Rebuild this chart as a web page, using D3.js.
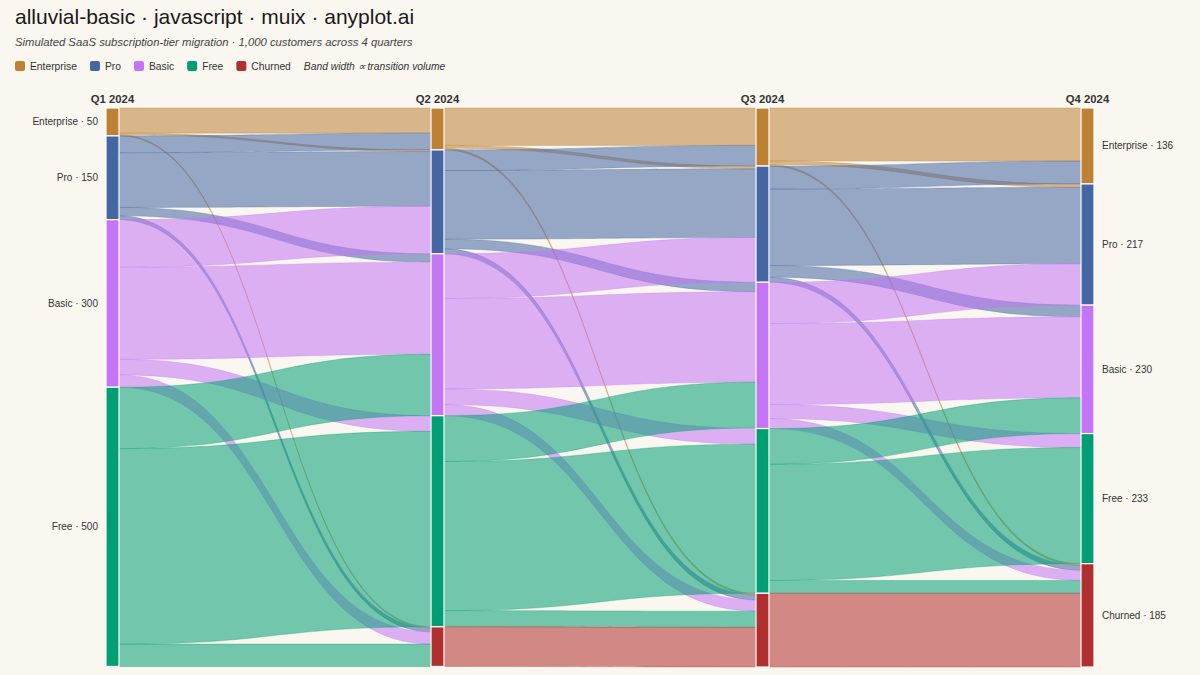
<!DOCTYPE html>
<html>
<head>
<meta charset="utf-8">
<script src="https://cdn.jsdelivr.net/npm/d3@7"></script>
<style>
  html, body { margin: 0; padding: 0; background: #faf7f0; }
  svg { display: block; font-family: "Liberation Sans", Arial, sans-serif; }
</style>
</head>
<body>
<div id="chart"></div>
<script>
// quarters (columns) and subscription tiers (rows)
const quarters = ["Q1 2024", "Q2 2024", "Q3 2024", "Q4 2024"];
const tiers = ["Enterprise", "Pro", "Basic", "Free", "Churned"];

// customers moving between tiers, rows = from tier, cols = to tier
const q1ToQ2 = [
  [45, 3, 0, 0, 2],
  [30, 98, 15, 0, 7],
  [0, 85, 165, 28, 22],
  [0, 0, 110, 350, 40],
  [0, 0, 0, 0, 0],
];
const q2ToQ3 = [
  [67, 5, 0, 0, 3],
  [37, 123, 17, 0, 9],
  [0, 80, 162, 28, 20],
  [0, 0, 82, 267, 29],
  [0, 0, 0, 0, 71],
];
const q3ToQ4 = [
  [95, 6, 0, 0, 3],
  [41, 137, 21, 0, 9],
  [0, 74, 145, 25, 18],
  [0, 0, 64, 208, 23],
  [0, 0, 0, 0, 132],
];
const transitions = [q1ToQ2, q2ToQ3, q3ToQ4];

const width = 1200;
const height = 675;
const margin = { top: 108, bottom: 8, left: 106, right: 106 };
const nodeWidth = 13;

const color = d3
  .scaleOrdinal()
  .domain(tiers)
  .range(["#bd8134", "#4466a3", "#c375f6", "#009e73", "#b02f2f"]);

const svg = d3
  .select("#chart")
  .append("svg")
  .attr("width", width)
  .attr("height", height);

svg.append("rect").attr("width", width).attr("height", height).attr("fill", "#faf7f0");

// node values: max of inflow and outflow in each quarter
const nodes = [];
quarters.forEach((q, c) => {
  tiers.forEach((t, i) => {
    const inflow = c > 0 ? d3.sum(transitions[c - 1], (row) => row[i]) : 0;
    const outflow = c < transitions.length ? d3.sum(transitions[c][i]) : 0;
    const value = Math.max(inflow, outflow);
    if (value > 0) nodes.push({ col: c, tier: i, value });
  });
});

const maxTotal = d3.max(quarters, (q, c) =>
  d3.sum(nodes.filter((n) => n.col === c), (n) => n.value)
);

const x = d3
  .scalePoint()
  .domain(quarters)
  .range([margin.left, width - margin.right - nodeWidth]);

const y = d3
  .scaleLinear()
  .domain([0, maxTotal])
  .range([margin.top, height - margin.bottom]);

// stack nodes inside each column
quarters.forEach((q, c) => {
  let acc = 0;
  nodes
    .filter((n) => n.col === c)
    .forEach((n) => {
      n.x0 = x(q);
      n.x1 = x(q) + nodeWidth;
      n.y0 = y(acc);
      acc += n.value;
      n.y1 = y(acc);
      n.outOffset = n.y0;
      n.inOffset = n.y0;
    });
});

const findNode = (c, i) => nodes.find((n) => n.col === c && n.tier === i);
const k = (v) => y(v) - y(0);

// links, stacked by target inside source and by source inside target
const links = [];
transitions.forEach((m, t) => {
  m.forEach((row, s) => {
    row.forEach((v, j) => {
      if (v <= 0) return;
      const src = findNode(t, s);
      const tgt = findNode(t + 1, j);
      const l = { t, s, j, v, src, tgt };
      l.ys0 = src.outOffset;
      l.ys1 = src.outOffset + k(v);
      src.outOffset = l.ys1;
      links.push(l);
    });
  });
  // target side ordered by source tier
  tiers.forEach((_, j) => {
    links
      .filter((l) => l.t === t && l.j === j)
      .sort((a, b) => a.s - b.s)
      .forEach((l) => {
        l.yt0 = l.tgt.inOffset;
        l.yt1 = l.tgt.inOffset + k(l.v);
        l.tgt.inOffset = l.yt1;
      });
  });
});

const ribbon = (l) => {
  const x0 = l.src.x1;
  const x1 = l.tgt.x0;
  const xm = (x0 + x1) / 2;
  return `M${x0},${l.ys0}C${xm},${l.ys0} ${xm},${l.yt0} ${x1},${l.yt0}` +
    `L${x1},${l.yt1}C${xm},${l.yt1} ${xm},${l.ys1} ${x0},${l.ys1}Z`;
};

svg
  .append("g")
  .selectAll("path")
  .data(links)
  .enter()
  .append("path")
  .attr("d", ribbon)
  .attr("fill", (d) => color(tiers[d.s]))
  .attr("fill-opacity", 0.55)
  .attr("stroke", (d) => color(tiers[d.s]))
  .attr("stroke-opacity", 0.45)
  .attr("stroke-width", 0.7);

svg
  .append("g")
  .selectAll("rect")
  .data(nodes)
  .enter()
  .append("rect")
  .attr("x", (d) => d.x0)
  .attr("y", (d) => d.y0)
  .attr("width", nodeWidth)
  .attr("height", (d) => d.y1 - d.y0)
  .attr("fill", (d) => color(tiers[d.tier]))
  .attr("stroke", "#ffffff")
  .attr("stroke-width", 1.2);

// node labels on first and last column
const last = quarters.length - 1;
svg
  .append("g")
  .selectAll("text")
  .data(nodes.filter((n) => n.col === 0 || n.col === last))
  .enter()
  .append("text")
  .attr("x", (d) => (d.col === 0 ? d.x0 - 8 : d.x1 + 8))
  .attr("y", (d) => (d.y0 + d.y1) / 2)
  .attr("dy", "0.35em")
  .attr("text-anchor", (d) => (d.col === 0 ? "end" : "start"))
  .style("font-size", "10px")
  .style("fill", "#333")
  .text((d) => `${tiers[d.tier]} · ${d.value}`);

// quarter headers
svg
  .append("g")
  .selectAll("text")
  .data(quarters)
  .enter()
  .append("text")
  .attr("x", (d) => x(d) + nodeWidth / 2)
  .attr("y", 103)
  .attr("text-anchor", "middle")
  .style("font-size", "11.3px")
  .style("font-weight", "bold")
  .style("fill", "#333")
  .text((d) => d);

// title and subtitle
svg
  .append("text")
  .attr("x", 15)
  .attr("y", 24)
  .style("font-size", "21px")
  .style("fill", "#1a1a1a")
  .text("alluvial-basic · javascript · muix · anyplot.ai");

svg
  .append("text")
  .attr("x", 15)
  .attr("y", 46)
  .style("font-size", "11.3px")
  .style("font-style", "italic")
  .style("fill", "#444")
  .text("Simulated SaaS subscription-tier migration · 1,000 customers across 4 quarters");

// legend
const legend = svg.append("g").attr("transform", "translate(15,61)");
let lx = 0;
tiers.forEach((t) => {
  const item = legend.append("g").attr("transform", `translate(${lx},0)`);
  item
    .append("rect")
    .attr("width", 10)
    .attr("height", 10)
    .attr("rx", 2)
    .attr("fill", color(t));
  const label = item
    .append("text")
    .attr("x", 15)
    .attr("y", 8.5)
    .style("font-size", "10.3px")
    .style("fill", "#333")
    .text(t);
  lx += 15 + label.node().getComputedTextLength() + 13;
});
legend
  .append("text")
  .attr("x", lx)
  .attr("y", 8.5)
  .style("font-size", "10.3px")
  .style("font-style", "italic")
  .style("fill", "#333")
  .text("Band width ∝ transition volume");
</script>
</body>
</html>
